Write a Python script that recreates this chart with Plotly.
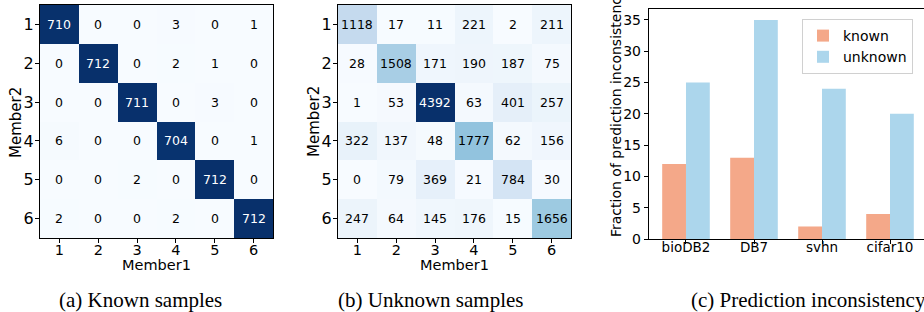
import plotly.graph_objects as go
import plotly.colors as pc

members = [1, 2, 3, 4, 5, 6]
known_matrix = [
    [710, 0, 0, 3, 0, 1],
    [0, 712, 0, 2, 1, 0],
    [0, 0, 711, 0, 3, 0],
    [6, 0, 0, 704, 0, 1],
    [0, 0, 2, 0, 712, 0],
    [2, 0, 0, 2, 0, 712],
]
unknown_matrix = [
    [1118, 17, 11, 221, 2, 211],
    [28, 1508, 171, 190, 187, 75],
    [1, 53, 4392, 63, 401, 257],
    [322, 137, 48, 1777, 62, 156],
    [0, 79, 369, 21, 784, 30],
    [247, 64, 145, 176, 15, 1656],
]
datasets = ["bioDB2", "DB7", "svhn", "cifar10"]
known_frac = [12, 13, 2, 4]
unknown_frac = [25, 35, 24, 20]
captions = ["(a) Known samples", "(b) Unknown samples", "(c) Prediction inconsistency"]

W, H = 924, 312          # design grid (picture pixels)
FIG_H = 320              # page height that the photo is taken of
SANS = "DejaVu Sans"
SERIF = "Liberation Serif"
blues = pc.sequential.Blues

fig = go.Figure()

def px_x(a, b):
    return [a / W, b / W]

def px_y(top, bottom):
    return [(H - bottom) / H, (H - top) / H]

def note(x, y, text, size, family=SANS, angle=0, color="black", **kw):
    return dict(x=x, y=y, text=text, showarrow=False, textangle=angle,
                xanchor="center", yanchor="middle",
                font=dict(family=family, size=size, color=color), **kw)

heat_specs = [
    (known_matrix, "x", "y", px_x(40, 273)),
    (unknown_matrix, "x2", "y2", px_x(338, 571)),
]
annotations = []
for mat, xa, ya, dom in heat_specs:
    zmax = max(max(r) for r in mat)
    fig.add_trace(go.Heatmap(
        z=mat, x=members, y=members, xaxis=xa, yaxis=ya,
        colorscale=blues, zmin=0, zmax=zmax, showscale=False,
        hoverinfo="skip",
    ))
    for i, row in enumerate(mat):
        for j, v in enumerate(row):
            annotations.append(note(members[j], members[i], str(v), 12.5,
                                    color="white" if v > zmax / 2 else "black",
                                    xref=xa, yref=ya))
    cx = (dom[0] + dom[1]) / 2
    annotations.append(note(cx, (H - 265) / H, "Member1", 14.5, xref="paper", yref="paper"))
    annotations.append(note(dom[0] - 24 / W, (H - 122) / H, "Member2", 15, angle=-90,
                            xref="paper", yref="paper"))

fig.add_trace(go.Bar(x=datasets, y=known_frac, name="known", marker_color="#f4a889",
                     xaxis="x3", yaxis="y3", marker_line_width=0))
fig.add_trace(go.Bar(x=datasets, y=unknown_frac, name="unknown", marker_color="#acd6ec",
                     xaxis="x3", yaxis="y3", marker_line_width=0))

annotations.append(note(616 / W, (H - 113) / H, "Fraction of prediction inconsistency", 14,
                        angle=-90, xref="paper", yref="paper"))

for cap, cx in zip(captions, [140, 430, 808]):
    annotations.append(note(cx / W, (H - 300) / H, cap, 21, family=SERIF,
                            xref="paper", yref="paper"))

heat_axis = dict(showline=True, mirror=True, linecolor="black", linewidth=1.2,
                 ticks="outside", ticklen=4, tickwidth=1, tickcolor="black",
                 showgrid=False, zeroline=False, tickvals=members,
                 tickfont=dict(family=SANS, size=14.5, color="black"))
heat_y = dict(heat_axis, autorange="reversed", ticklabelstandoff=-2,
              tickfont=dict(family=SANS, size=16, color="black"))

fig.update_layout(
    width=W, height=FIG_H,
    margin=dict(l=0, r=0, t=0, b=0),
    paper_bgcolor="white", plot_bgcolor="white",
    showlegend=True,
    barmode="group", bargap=0.3, bargroupgap=0,
    xaxis=dict(heat_axis, domain=px_x(40, 273), anchor="y", ticklabelstandoff=-6),
    yaxis=dict(heat_y, domain=px_y(5, 238), anchor="x"),
    xaxis2=dict(heat_axis, domain=px_x(338, 571), anchor="y2", ticklabelstandoff=-6),
    yaxis2=dict(heat_y, domain=px_y(5, 238), anchor="x2"),
    xaxis3=dict(domain=px_x(649, 924), anchor="y3", range=[-0.544, 3.5],
                showline=True, mirror=True, linecolor="black", linewidth=1.2,
                ticks="outside", ticklen=4, tickcolor="black", showgrid=False,
                ticklabelstandoff=-8,
                tickfont=dict(family=SANS, size=13.5, color="black")),
    yaxis3=dict(domain=px_y(9, 239), anchor="x3", range=[0, 36.75],
                showline=True, linecolor="black", linewidth=1.2,
                ticks="outside", ticklen=4, tickcolor="black", showgrid=False,
                zeroline=False, dtick=5,
                tickfont=dict(family=SANS, size=14, color="black")),
    legend=dict(x=802 / W, y=(H - 19) / H, xanchor="left", yanchor="top",
                bgcolor="white", bordercolor="#d0d0d0", borderwidth=1,
                font=dict(family=SANS, size=14, color="black"),
                itemwidth=30, tracegroupgap=0),
    annotations=annotations,
)

fit_page = (
    "var de=document.documentElement, b=document.body;"
    "de.style.margin='0';de.style.padding='0';de.style.height='320px';de.style.overflow='hidden';"
    "b.style.margin='0';b.style.padding='0';b.style.height='320px';b.style.overflow='hidden';"
    "var w=b.firstElementChild; if(w){w.style.height='320px';w.style.overflow='hidden';w.style.lineHeight='0';}"
    "window.scrollTo(0,0);"
)
fig.write_html("out.html", config={"displayModeBar": False, "staticPlot": True},
               post_script=fit_page)
